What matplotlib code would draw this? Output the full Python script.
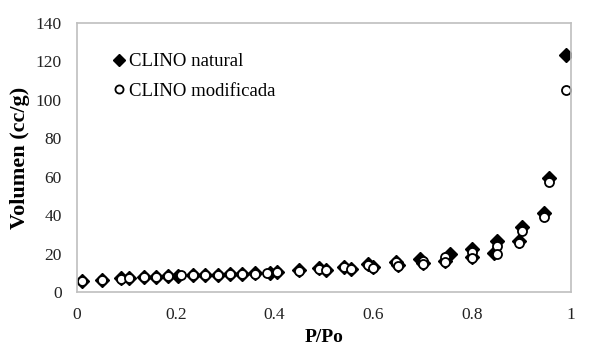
import matplotlib.pyplot as plt

plt.rcParams['font.family'] = ['Liberation Serif', 'DejaVu Serif']

# CLINO natural (adsorcion + desorcion)
p_natural = [0.01, 0.05, 0.09, 0.105, 0.135, 0.16, 0.185, 0.205, 0.235, 0.26,
             0.285, 0.31, 0.335, 0.36, 0.39, 0.405, 0.45, 0.49, 0.505, 0.54,
             0.555, 0.59, 0.60, 0.645, 0.65, 0.695, 0.70, 0.755, 0.745, 0.80,
             0.80, 0.85, 0.845, 0.90, 0.895, 0.945, 0.955, 0.99]
v_natural = [5.8, 6.3, 7.2, 7.3, 7.8, 8.0, 8.3, 8.5, 8.8, 8.9,
             9.0, 9.3, 9.5, 9.7, 10.0, 10.3, 11.2, 12.3, 11.5, 13.2,
             12.0, 14.5, 13.0, 15.8, 14.0, 17.2, 15.3, 20.0, 16.0, 22.5,
             18.0, 26.5, 20.5, 34.0, 26.5, 41.0, 59.5, 123.5]

# CLINO modificada
p_modif = [0.01, 0.05, 0.09, 0.105, 0.135, 0.16, 0.185, 0.21, 0.235, 0.26,
           0.285, 0.31, 0.335, 0.36, 0.385, 0.405, 0.45, 0.49, 0.505, 0.54,
           0.555, 0.59, 0.60, 0.645, 0.65, 0.70, 0.70, 0.745, 0.745, 0.80,
           0.80, 0.85, 0.85, 0.90, 0.895, 0.945, 0.955, 0.99]
v_modif = [5.5, 6.0, 7.0, 7.2, 7.6, 7.9, 8.2, 8.6, 8.7, 8.8,
           8.9, 9.2, 9.4, 9.6, 9.9, 10.2, 11.0, 12.2, 11.2, 13.0,
           11.8, 14.0, 12.4, 15.5, 13.6, 16.0, 14.8, 18.4, 15.5, 21.0,
           17.5, 23.8, 20.0, 32.0, 25.5, 39.2, 57.0, 105.0]

xticks = [0, 0.2, 0.4, 0.6, 0.8, 1]
xticklabels = ['0', '0.2', '0.4', '0.6', '0.8', '1']
yticks = [0, 20, 40, 60, 80, 100, 120, 140]

fig = plt.figure(figsize=(5.89, 3.62), dpi=100)
ax = fig.add_axes([0.1307, 0.1934, 0.8387, 0.7431])

ax.plot(p_natural, v_natural, linestyle='none', marker='D', markersize=7,
        color='black', label='CLINO natural')
ax.plot(p_modif, v_modif, linestyle='none', marker='o', markersize=6.5,
        markerfacecolor='white', markeredgecolor='black', markeredgewidth=1.3,
        label='CLINO modificada')

ax.set_xlim(0, 1)
ax.set_ylim(0, 140)
ax.set_xticks(xticks)
ax.set_xticklabels(xticklabels)
ax.set_yticks(yticks)
ax.tick_params(length=0, labelsize=12.5, colors='#222222')
ax.tick_params(axis='x', pad=11)
ax.tick_params(axis='y', pad=11)

for s in ax.spines.values():
    s.set_color('#bfbfbf')
    s.set_linewidth(1.2)

ax.set_xlabel('P/Po', fontsize=14, fontweight='bold', labelpad=4)
ax.set_ylabel('Volumen (cc/g)', fontsize=16, fontweight='bold', labelpad=4)

ax.legend(loc='upper left', bbox_to_anchor=(0.055, 0.915), frameon=False,
          fontsize=13.5, handletextpad=0.1, labelspacing=0.65, markerscale=0.9,
          handlelength=0.8, borderaxespad=0)

fig.savefig('out.png', dpi=100)
